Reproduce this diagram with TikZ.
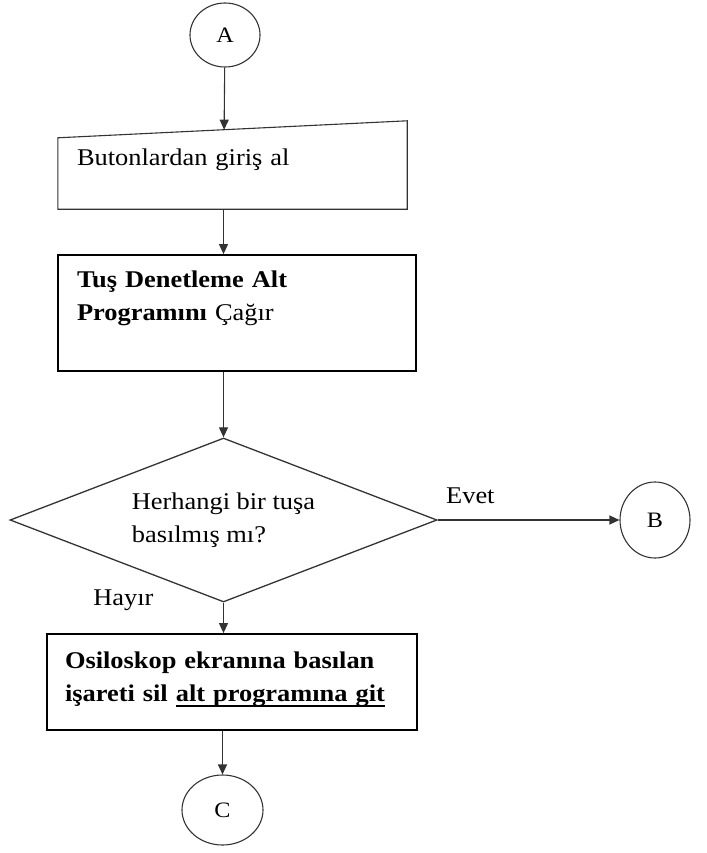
\documentclass[tikz,border=0pt]{standalone}
\usepackage{xcolor}
\usepackage{fontspec}
\setmainfont{Liberation Serif}[FakeStretch=1.1]
\usepackage{tikz}
\usetikzlibrary{shapes.geometric, arrows.meta, positioning, calc}
\definecolor{cizgi}{HTML}{333333}
\newcommand{\altcizgili}[1]{\setbox0\hbox{#1}\rlap{\rule[-6pt]{\wd0}{1.6pt}}\box0}

\begin{document}
\begin{tikzpicture}[x=1pt, y=-1pt, node distance=130pt,
    font=\fontsize{24}{33}\selectfont,
    kutu/.style={rectangle, draw=black, line width=1.8pt, align=left, inner ysep=0pt},
    daire/.style={ellipse, draw=cizgi, line width=1.1pt, inner sep=0pt, font=\fontsize{22}{24}\selectfont},
    ok/.style={-{Triangle[length=10pt, width=9pt]}, line width=1.1pt, cizgi}]
    \useasboundingbox (0,0) rectangle (706,853);
    % Nodes
    \node (A) [daire, minimum width=70pt, minimum height=64pt] at (225,35) {A};
    \node (giris) [rectangle, align=left, text width=311pt, inner xsep=19pt, inner ysep=0pt, text height=44pt, text depth=44pt, below of=A, xshift=7.5pt] {Butonlardan giriş al};
    \node (cagir) [kutu, text width=320pt, inner xsep=19pt, text height=32pt, text depth=84pt, below of=giris, node distance=148pt, xshift=4.5pt] {\textbf{Tuş Denetleme Alt}\\ \textbf{Programını} Çağır};
    \node (karar) [diamond, draw=cizgi, line width=1.3pt, aspect=2.6, minimum width=427pt, minimum height=164pt, inner sep=0pt, align=left, below of=cagir, node distance=207pt, xshift=-13.5pt] {Herhangi bir tuşa\\ basılmış mı?};
    \node (osil) [kutu, text width=334pt, inner xsep=18pt, text height=34pt, text depth=62pt, below of=karar, node distance=162pt, xshift=8.5pt] {\textbf{Osiloskop ekranına basılan}\\ \textbf{işareti sil \altcizgili{alt programına git}}};
    \node (C) [daire, minimum width=81pt, minimum height=70pt, below of=osil, node distance=128pt, xshift=-9.5pt] {C};
    \node (B) [daire, minimum width=70pt, minimum height=76pt, right of=karar, node distance=431.5pt] {B};
    \node (evet) [anchor=base west] at ([xshift=5pt, yshift=17pt]karar.east) {Evet};
    \node (hayir) [anchor=base east] at ([xshift=-66.5pt, yshift=-3pt]karar.south) {Hayır};

    % Manual input outline
    \draw [cizgi, line width=1.1pt] ([yshift=-17pt]giris.north west) -- (giris.north east) -- (giris.south east) -- (giris.south west) -- cycle;
    \coordinate (girisust) at ($([yshift=-17pt]giris.north west)!0.476!(giris.north east)$);

    % Arrows
    \draw [ok] (A) -- (girisust);
    \draw [ok] (giris.south -| karar) -- (cagir.north -| karar);
    \draw [ok] (cagir.south -| karar) -- (karar.north);
    \draw [ok] (karar.east) -- (B);
    \draw [ok] (karar.south) -- (osil.north -| karar);
    \draw [ok] (osil.south -| C) -- (C);
\end{tikzpicture}
\end{document}
